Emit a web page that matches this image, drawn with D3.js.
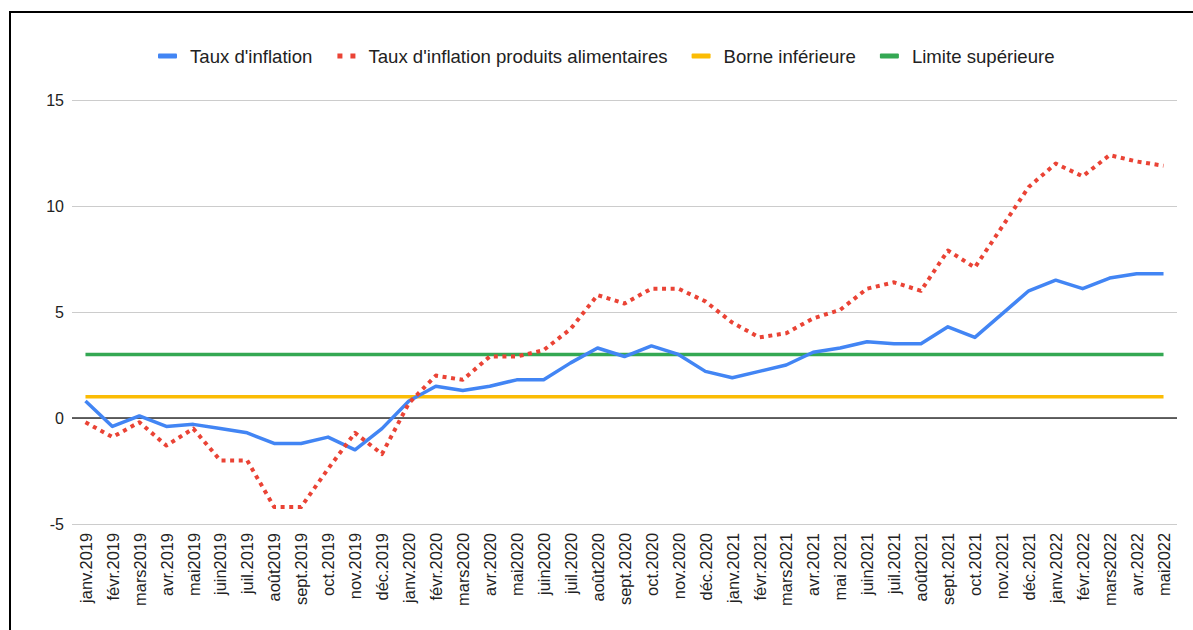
<!DOCTYPE html>
<html>
<head>
<meta charset="utf-8">
<script src="https://cdn.jsdelivr.net/npm/d3@7"></script>
<style>
  html, body { margin: 0; padding: 0; background: #fff; }
  svg { display: block; font-family: "Liberation Sans", Arial, sans-serif; }
</style>
</head>
<body>
<svg id="chart" width="1193" height="630"></svg>
<script>
// Monthly categories, Jan 2019 – May 2022
const months = [
  "janv.2019", "févr.2019", "mars2019", "avr.2019", "mai2019", "juin2019",
  "juil.2019", "août2019", "sept.2019", "oct.2019", "nov.2019", "déc.2019",
  "janv.2020", "févr.2020", "mars2020", "avr.2020", "mai2020", "juin2020",
  "juil.2020", "août2020", "sept.2020", "oct.2020", "nov.2020", "déc.2020",
  "janv.2021", "févr.2021", "mars2021", "avr.2021", "mai 2021", "juin2021",
  "juil.2021", "août2021", "sept.2021", "oct.2021", "nov.2021", "déc.2021",
  "janv.2022", "févr.2022", "mars2022", "avr.2022", "mai2022"
];

// Headline inflation rate (%)
const inflation = [
  0.8, -0.4, 0.1, -0.4, -0.3, -0.5, -0.7, -1.2, -1.2, -0.9, -1.5, -0.5,
  0.8, 1.5, 1.3, 1.5, 1.8, 1.8, 2.6, 3.3, 2.9, 3.4, 3.0, 2.2,
  1.9, 2.2, 2.5, 3.1, 3.3, 3.6, 3.5, 3.5, 4.3, 3.8, 4.9, 6.0,
  6.5, 6.1, 6.6, 6.8, 6.8
];

// Food inflation rate (%)
const foodInflation = [
  -0.2, -0.9, -0.2, -1.3, -0.5, -2.0, -2.0, -4.2, -4.2, -2.4, -0.7, -1.7,
  0.7, 2.0, 1.8, 2.9, 2.9, 3.2, 4.2, 5.8, 5.4, 6.1, 6.1, 5.5,
  4.5, 3.8, 4.0, 4.7, 5.1, 6.1, 6.4, 6.0, 7.9, 7.1, 9.0, 10.9,
  12.0, 11.4, 12.4, 12.1, 11.9
];

// Target band bounds (%)
const lowerBound = months.map(() => 1);
const upperBound = months.map(() => 3);

const yTicks = [-5, 0, 5, 10, 15];
const yTickLabels = ["-5", "0", "5", "10", "15"];

const seriesNames = [
  "Taux d'inflation",
  "Taux d'inflation produits alimentaires",
  "Borne inférieure",
  "Limite supérieure"
];
const seriesColors = ["#4285f4", "#ea4335", "#fbbc04", "#34a853"];

const svg = d3.select("#chart");

// Frame
svg.append("rect")
  .attr("x", 10).attr("y", 12)
  .attr("width", 1300).attr("height", 700)
  .attr("fill", "#fff").attr("stroke", "#000").attr("stroke-width", 2);

const plotLeft = 72, plotRight = 1177;
const x = d3.scalePoint().domain(months).range([plotLeft, plotRight]).padding(0.5);
const y = d3.scaleLinear().domain([-5, 15]).range([524, 100]);

// Gridlines + y labels
const yAxis = d3.axisLeft(y).tickValues(yTicks)
  .tickFormat((d, i) => yTickLabels[i])
  .tickSize(-(plotRight - plotLeft)).tickPadding(8);
const gy = svg.append("g").attr("transform", `translate(${plotLeft},0)`).call(yAxis);
gy.select(".domain").remove();
gy.selectAll(".tick line").attr("stroke", "#cccccc").attr("stroke-width", 1);
gy.selectAll(".tick text")
  .attr("fill", "#222").style("font-size", "16px")
  .style("font-family", '"Liberation Sans", Arial, sans-serif');

// Zero baseline
svg.append("line")
  .attr("x1", plotLeft).attr("x2", plotRight)
  .attr("y1", y(0)).attr("y2", y(0))
  .attr("stroke", "#333").attr("stroke-width", 1.5);

// X axis labels (rotated)
const xAxis = d3.axisBottom(x).tickSize(0).tickPadding(0);
const gx = svg.append("g").attr("transform", `translate(0,${y(-5)})`).call(xAxis);
gx.select(".domain").remove();
gx.selectAll(".tick text")
  .attr("transform", "translate(0,9) rotate(-90)")
  .attr("text-anchor", "end")
  .attr("x", 0).attr("y", 0).attr("dy", "0.35em")
  .attr("fill", "#222").style("font-size", "16.4px")
  .style("font-family", '"Liberation Sans", Arial, sans-serif');

const line = d3.line()
  .x((d, i) => x(months[i]))
  .y(d => y(d));

const seriesData = [inflation, foodInflation, lowerBound, upperBound];
const seriesStyles = [
  { width: 3.5, dash: null },
  { width: 4, dash: "4 4.6" },
  { width: 3.5, dash: null },
  { width: 3.5, dash: null }
];

// Draw bounds first, then the two rate series on top
[2, 3, 0, 1].forEach(k => {
  svg.append("path")
    .datum(seriesData[k])
    .attr("d", line)
    .attr("fill", "none")
    .attr("stroke", seriesColors[k])
    .attr("stroke-width", seriesStyles[k].width)
    .attr("stroke-linejoin", "round")
    .attr("stroke-dasharray", seriesStyles[k].dash);
});

// Legend
const legend = svg.append("g").attr("transform", "translate(158,56)");
let cx = 0;
seriesNames.forEach((name, k) => {
  const g = legend.append("g").attr("transform", `translate(${cx},0)`);
  if (k === 1) {
    g.append("rect").attr("x", 1).attr("y", -2.5).attr("width", 5).attr("height", 5).attr("fill", seriesColors[k]);
    g.append("rect").attr("x", 14).attr("y", -2.5).attr("width", 5).attr("height", 5).attr("fill", seriesColors[k]);
  } else {
    g.append("rect").attr("x", 0).attr("y", -2.5).attr("width", 19).attr("height", 5).attr("rx", 1).attr("fill", seriesColors[k]);
  }
  const t = g.append("text")
    .attr("x", 32).attr("y", 0).attr("dy", "0.35em")
    .attr("fill", "#222").style("font-size", "18.6px")
    .text(name);
  cx += 32 + t.node().getComputedTextLength() + 24;
});
</script>
</body>
</html>
